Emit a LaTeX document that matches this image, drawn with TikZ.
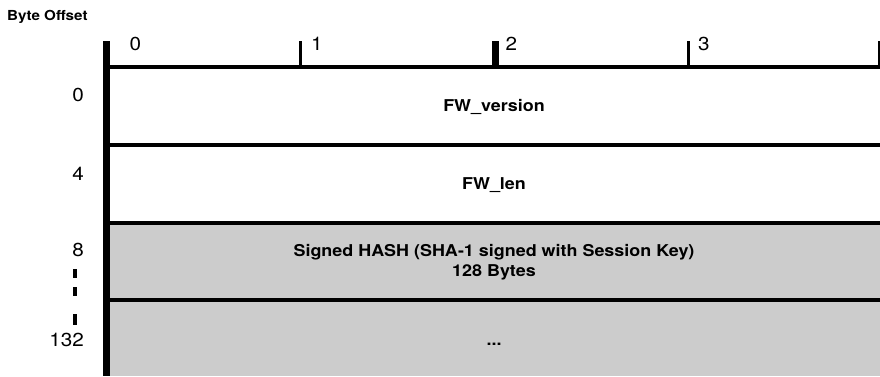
\documentclass[tikz,border=0pt]{standalone}
\usepackage{fontspec}
\setmainfont[FakeStretch=1.1]{TeX Gyre Heros}
\usepackage{tikz}
\definecolor{cellgray}{RGB}{204,204,204}

\begin{document}
\begin{tikzpicture}[x=1pt, y=-1pt,
    rowtext/.style={font=\fontsize{16.3}{20.6}\selectfont\bfseries, anchor=base, inner sep=0pt, align=center},
    offnum/.style={font=\fontsize{18.8}{22}\selectfont, anchor=base east, inner sep=0pt},
    colnum/.style={font=\fontsize{18.8}{22}\selectfont, anchor=base west, inner sep=0pt}]
  \useasboundingbox (0,0) rectangle (880,376);
  % shaded rows (hash and the rest)
  \fill[cellgray] (106,222.7) rectangle (880,376);
  % row separators
  \draw[line width=4pt] (106,145.3) -- (880,145.3);
  \draw[line width=4pt] (106,222.7) -- (880,222.7);
  \draw[line width=4pt] (106,299.7) -- (880,299.7);
  % byte ruler on top
  \draw[line width=4pt] (106,67) -- (880,67);
  \draw[line width=2.7pt] (300.7,41) -- (300.7,67);
  \draw[line width=7pt] (495,41) -- (495,67);
  \draw[line width=2.7pt] (688.7,41) -- (688.7,67);
  \draw[line width=2.5pt] (879,41) -- (879,67);
  % left word boundary
  \draw[line width=7pt] (106,41) -- (106,376);
  % heading
  \node[font=\fontsize{13.8}{16}\selectfont\bfseries, anchor=base west, inner sep=0pt] (bytelbl) at (7,20.7) {Byte Offset};
  % byte numbers
  \node[colnum] (col0) at (129.5,50) {0};
  \node[colnum] (col1) at (311,50) {1};
  \node[colnum] (col2) at (505.5,50) {2};
  \node[colnum] (col3) at (698,50) {3};
  % offsets
  \node[offnum] (off0) at (84,101.7) {0};
  \node[offnum] (off4) at (84,180) {4};
  \node[offnum] (off8) at (84,256.7) {8};
  \node[offnum] (off132) at (84,346.7) {132};
  % gap between 8 and 132
  \draw[line width=4pt] (75.3,269.3) -- (75.3,278.3);
  \draw[line width=4pt] (75.3,287.3) -- (75.3,296);
  \draw[line width=4pt] (75.3,314) -- (75.3,325);
  % fields
  \node[rowtext] (fwver) at (494,111.9) {FW\_version};
  \node[rowtext] (fwlen) at (494,189.5) {FW\_len};
  \node[rowtext] (hash) at (494,276.7) {Signed HASH (SHA-1 signed with Session Key)\\128 Bytes};
  \node[rowtext] (more) at (494,345) {...};
\end{tikzpicture}
\end{document}
